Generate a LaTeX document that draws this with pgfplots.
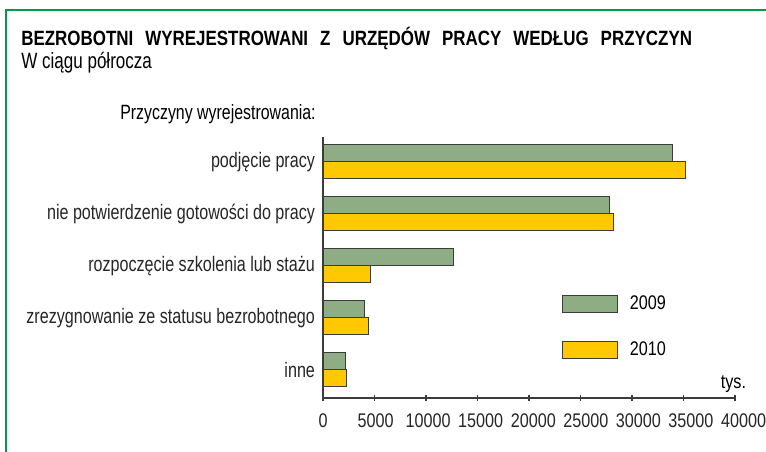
\documentclass[border=0pt]{standalone}
\usepackage{fontspec}
\setmainfont{Liberation Sans}[FakeStretch=0.77]
\newfontfamily\titlefont{Liberation Sans}[FakeStretch=0.82]
\newfontfamily\tickfont{Liberation Sans}[FakeStretch=0.82]
\usepackage{pgfplots}
\pgfplotsset{compat=1.18}
\definecolor{frame}{RGB}{0,155,72}
\definecolor{g09}{RGB}{143,173,133}
\definecolor{y10}{RGB}{255,200,0}
\definecolor{edge}{RGB}{60,60,60}
\begin{document}
\begin{tikzpicture}[x=0.75pt,y=0.75pt]
\path[use as bounding box] (0,0) rectangle (766,452);
\draw[frame,line width=1.9pt] (6,-5) -- (6,442) -- (780,442);
\node[anchor=base west,inner sep=0pt,font=\titlefont\fontsize{15.5}{17}\selectfont\bfseries] at (21,406)
  {BEZROBOTNI\hspace{9pt}WYREJESTROWANI\hspace{9pt}Z\hspace{9pt}URZĘDÓW\hspace{9pt}PRACY\hspace{9pt}WEDŁUG\hspace{9pt}PRZYCZYN};
\node[anchor=base west,inner sep=0pt,font=\fontsize{16.6}{18}\selectfont] at (21,383) {W ciągu półrocza};
\node[anchor=base west,inner sep=0pt,font=\fontsize{15.5}{17}\selectfont] at (120,332) {Przyczyny wyrejestrowania:};
\begin{axis}[
  at={(242.25pt,40.5pt)}, anchor=south west,
  scale only axis, width=309pt, height=195.75pt,
  clip=false,
  xbar, bar width=12.75pt,
  xmin=0, xmax=40000, ymin=-0.54, ymax=4.48,
  axis lines*=left,
  x axis line style={-, draw=edge, line width=0.8pt},
  y axis line style={-, draw=edge, line width=0.8pt},
  xtick={0,5000,...,40000},
  scaled x ticks=false,
  xticklabel style={/pgf/number format/1000 sep={}, font=\tickfont\fontsize{14.8}{16}\selectfont, yshift=-6pt, xshift=\ticknum*0.8pt},
  /pgf/number format/assume math mode=true,
  yticklabel style={font=\fontsize{15.7}{17}\selectfont, xshift=0pt},
  tick label style={text=black!85},
  x tick style={draw=edge, line width=0.8pt},
  tick align=center, major tick length=5pt,
  ytick={0,1,2,3,4},
  y tick style={draw=none},
  yticklabels={inne, zrezygnowanie ze statusu bezrobotnego, rozpoczęcie szkolenia lub stażu, nie potwierdzenie gotowości do pracy, podjęcie pracy},
  legend style={at={(axis cs:23200,1.48)}, anchor=north west, draw=none, fill=none,
     font=\tickfont\fontsize{14.8}{16}\selectfont, row sep=18.5pt, inner sep=0pt,
     /tikz/every even column/.append style={column sep=7pt}},
  legend cell align=left,
  legend image code/.code={\draw[#1] (0pt,-6.4pt) rectangle (41pt,6.4pt);},
]
\addplot[fill=g09, draw=edge, line width=0.75pt, bar shift=6.375pt] coordinates {(2170,0) (4000,1) (12650,2) (27800,3) (33980,4)};
\addplot[fill=y10, draw=edge, line width=0.75pt, bar shift=-6.375pt] coordinates {(2300,0) (4430,1) (4600,2) (28250,3) (35240,4)};
\legend{\hspace{7pt}2009,\hspace{7pt}2010}
\node[anchor=base, inner sep=0pt, font=\tickfont\fontsize{14.8}{16}\selectfont] at (axis cs:39850,-0.35) {tys.};
\end{axis}
\end{tikzpicture}
\end{document}
